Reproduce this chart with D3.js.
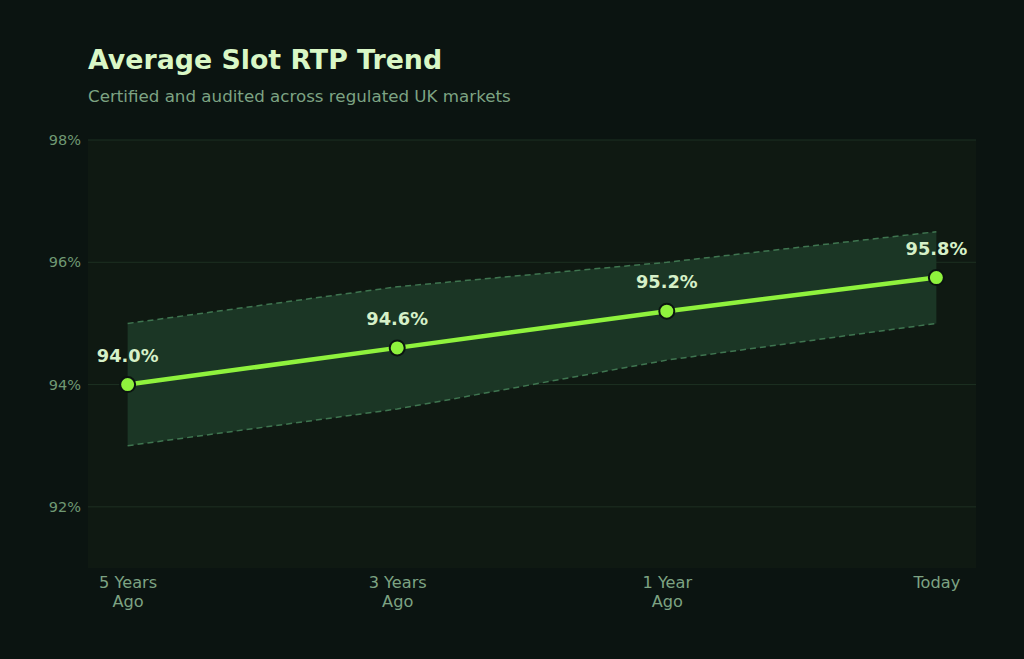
<!DOCTYPE html>
<html>
<head>
<meta charset="utf-8">
<script src="https://cdn.jsdelivr.net/npm/d3@7"></script>
<style>
  html, body { margin: 0; padding: 0; background: #0b1411; }
  body { font-family: "DejaVu Sans", sans-serif; }
</style>
</head>
<body>
<div id="chart"></div>
<script>
// data
var periods = ["5 Years|Ago", "3 Years|Ago", "1 Year|Ago", "Today"];
var rtp = [94.0, 94.6, 95.2, 95.75];
var upper = [95.0, 95.6, 96.0, 96.5];
var lower = [93.0, 93.6, 94.4, 95.0];
var yTicks = [92, 94, 96, 98];

function main() {
    const W = 1024, H = 659;
    const margin = {top: 140, right: 48, bottom: 91, left: 88},
    width = W - margin.left - margin.right,
    height = H - margin.top - margin.bottom;

    const root = d3.select("#chart").append("svg")
        .attr("width", W)
        .attr("height", H);

    root.append("rect").attr("width", W).attr("height", H).attr("fill", "#0b1411");

    // titles
    root.append("text")
        .attr("x", 88).attr("y", 69)
        .attr("fill", "#d9f7c6")
        .style("font-size", "26.8px")
        .style("font-weight", "bold")
        .text("Average Slot RTP Trend");

    root.append("text")
        .attr("x", 88).attr("y", 102)
        .attr("fill", "#7da383")
        .style("font-size", "16.7px")
        .text("Certified and audited across regulated UK markets");

    const svg = root.append("g")
        .attr("transform", `translate(${margin.left}, ${margin.top})`);

    // plot background
    svg.append("rect")
        .attr("width", width).attr("height", height)
        .attr("fill", "#0f1912");

    var x = d3.scalePoint()
        .domain(periods)
        .range([0, width])
        .padding(0.147);

    var y = d3.scaleLinear()
        .domain([91, 98])
        .range([height, 0]);

    // grid
    svg.append("g")
        .selectAll("line")
        .data(yTicks)
        .enter()
        .append("line")
            .attr("x1", 0).attr("x2", width)
            .attr("y1", d => y(d)).attr("y2", d => y(d))
            .attr("stroke", "#1d3022")
            .attr("stroke-width", 1);

    // y axis
    var yAxis = svg.append("g")
        .call(d3.axisLeft(y).tickValues(yTicks).tickSize(0).tickPadding(7).tickFormat(d => d + "%"));
    yAxis.select(".domain").remove();
    yAxis.selectAll("text")
        .attr("fill", "#6f9873")
        .style("font-size", "14.5px")
        .style("font-family", "DejaVu Sans, sans-serif");

    // x axis, two-line labels
    var xAxis = svg.append("g")
        .attr("transform", `translate(0, ${height})`)
        .call(d3.axisBottom(x).tickSize(0).tickPadding(0).tickFormat(""));
    xAxis.select(".domain").remove();
    xAxis.selectAll(".tick").each(function(d) {
        var t = d3.select(this).append("text")
            .attr("fill", "#7da383")
            .attr("text-anchor", "middle")
            .style("font-size", "16.2px")
            .style("font-family", "DejaVu Sans, sans-serif");
        d.split("|").forEach(function(part, i) {
            t.append("tspan").attr("x", 0).attr("y", 20 + i * 19).text(part);
        });
    });

    // band
    var bandData = periods.map((p, i) => ({p: p, lo: lower[i], hi: upper[i]}));
    svg.append("path")
        .datum(bandData)
        .attr("fill", "#1b3625")
        .attr("d", d3.area().x(d => x(d.p)).y0(d => y(d.lo)).y1(d => y(d.hi)));

    ["hi", "lo"].forEach(function(k) {
        svg.append("path")
            .datum(bandData)
            .attr("fill", "none")
            .attr("stroke", "#3f7550")
            .attr("stroke-width", 1.5)
            .attr("stroke-dasharray", "6,4")
            .attr("d", d3.line().x(d => x(d.p)).y(d => y(d[k])));
    });

    // main line
    var pts = periods.map((p, i) => ({p: p, v: rtp[i]}));
    svg.append("path")
        .datum(pts)
        .attr("fill", "none")
        .attr("stroke", "#8ff23d")
        .attr("stroke-width", 4.5)
        .attr("stroke-linecap", "round")
        .attr("d", d3.line().x(d => x(d.p)).y(d => y(d.v)));

    svg.selectAll(".dot")
        .data(pts)
        .enter()
        .append("circle")
            .attr("cx", d => x(d.p))
            .attr("cy", d => y(d.v))
            .attr("r", 7.5)
            .attr("fill", "#8ff23d")
            .attr("stroke", "#0b1411")
            .attr("stroke-width", 2);

    svg.selectAll(".lbl")
        .data(pts)
        .enter()
        .append("text")
            .attr("x", d => x(d.p))
            .attr("y", d => y(d.v) - 23)
            .attr("text-anchor", "middle")
            .attr("fill", "#d6f0c8")
            .style("font-size", "17.8px")
            .style("font-weight", "bold")
            .text(d => d.v.toFixed(1) + "%");
}

main();
</script>
</body>
</html>
